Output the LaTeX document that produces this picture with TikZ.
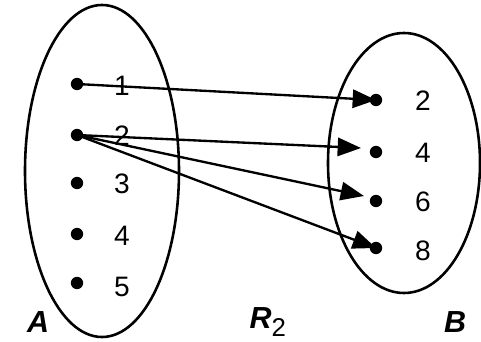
\documentclass[tikz,border=0pt]{standalone}
\usepackage{fontspec}
\setmainfont{Liberation Sans}
\usetikzlibrary{arrows.meta}
\tikzset{
  elem/.style={circle,fill=black,inner sep=0pt,minimum size=0.37cm},
  num/.style={font=\fontsize{24}{26}\selectfont},
  setname/.style={font=\fontsize{26}{28}\selectfont\bfseries\itshape},
  rel/.style={line width=2pt,-{Triangle[length=0.7cm,width=0.55cm]}}
}
\begin{document}
\begin{tikzpicture}[x=0.03cm,y=-0.03cm]
\useasboundingbox (0,0) rectangle (481,342);
\draw[line width=2.2pt] (102,171) ellipse [x radius=77,y radius=166];
\draw[line width=2.2pt] (404,163) ellipse [x radius=76,y radius=130];

\node[elem] (a1) at (77,84) {};
\node[elem] (a2) at (77,135) {};
\node[elem] (a3) at (77,183) {};
\node[elem] (a4) at (77,234) {};
\node[elem] (a5) at (77,283) {};
\node[num] (l1) at (122,86) {1};
\node[num] (l2) at (122,136) {2};
\node[num] (l3) at (122,184) {3};
\node[num] (l4) at (122,236) {4};
\node[num] (l5) at (122,287) {5};

\node[elem] (b2) at (376,100) {};
\node[elem] (b4) at (376,152) {};
\node[elem] (b6) at (376,201) {};
\node[elem] (b8) at (376,248) {};
\node[num] (m2) at (423,101) {2};
\node[num] (m4) at (423,153) {4};
\node[num] (m6) at (423,202) {6};
\node[num] (m8) at (423,251) {8};

\coordinate (t4) at (361,148);
\coordinate (t6) at (364,196);

\draw[rel] (a1.center) -- (b2.center);
\draw[rel] (a2.center) -- (t4);
\draw[rel] (a2.center) -- (t6);
\draw[rel] (a2.center) -- (b8.center);

\node[setname] (A) at (38,322) {A};
\node[setname] (R) at (268,322) {R\textsubscript{\normalfont\fontsize{22}{24}\selectfont 2}};
\node[setname] (B) at (455,322) {B};
\end{tikzpicture}
\end{document}
